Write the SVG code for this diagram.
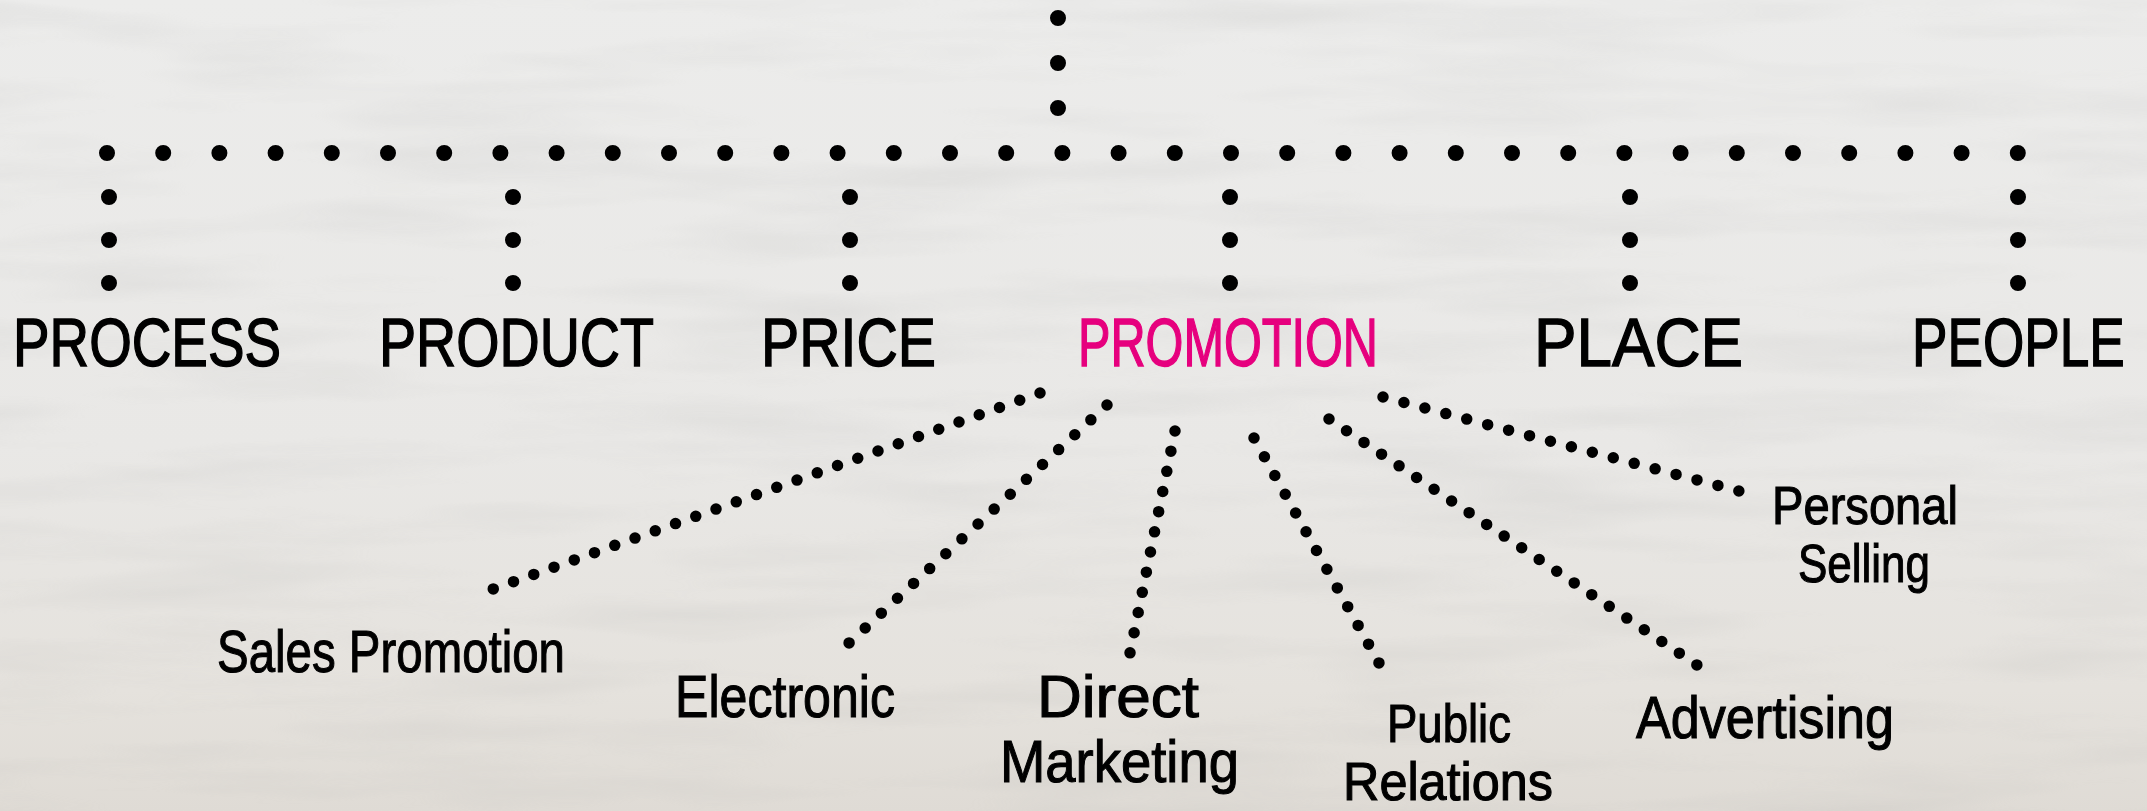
<svg xmlns="http://www.w3.org/2000/svg" width="2147" height="811" viewBox="0 0 2147 811">
  <defs>
    <linearGradient id="bg" x1="0" y1="0" x2="0" y2="1">
      <stop offset="0" stop-color="#ececeb"/>
      <stop offset="0.55" stop-color="#e9e8e6"/>
      <stop offset="0.85" stop-color="#e5e2dd"/>
      <stop offset="1" stop-color="#dfdbd5"/>
    </linearGradient>
    <filter id="grain" x="0" y="0" width="100%" height="100%">
      <feTurbulence type="fractalNoise" baseFrequency="0.003 0.025" numOctaves="3" seed="7" result="n"/>
      <feColorMatrix type="matrix" values="0 0 0 0 0.45  0 0 0 0 0.45  0 0 0 0 0.44  0 0 0 -1.1 0.62" />
    </filter>
    <style>
      .dot { fill: none; stroke: #000; stroke-linecap: round; }
      .big { stroke-width: 16; }
      .small { stroke-width: 11.5; }
      .main { font-family: "Liberation Sans", Arial, sans-serif; font-size: 68px; fill: #000; stroke: #000; stroke-width: 1.4px; }
      .sub { font-family: "Liberation Sans", Arial, sans-serif; font-size: 60px; fill: #000; stroke: #000; stroke-width: 1.1px; }
      .sub2 { font-size: 54px; }
      .hot { fill: #e6007e; stroke: #e6007e; }
    </style>
  </defs>

  <rect x="0" y="0" width="2147" height="811" fill="url(#bg)"/>
  <rect x="0" y="0" width="2147" height="811" filter="url(#grain)" opacity="0.35"/>

  <g id="connectors">
    <!-- top stem -->
    <line class="dot big" x1="1058" y1="18" x2="1058" y2="108" stroke-dasharray="0 44.99"/>
    <!-- horizontal bar -->
    <line class="dot big" x1="107" y1="153" x2="2018" y2="153" stroke-dasharray="0 56.2"/>
    <!-- drops -->
    <line class="dot big" x1="109" y1="197" x2="109" y2="283" stroke-dasharray="0 42.99"/>
    <line class="dot big" x1="513" y1="197" x2="513" y2="283" stroke-dasharray="0 42.99"/>
    <line class="dot big" x1="850" y1="197" x2="850" y2="283" stroke-dasharray="0 42.99"/>
    <line class="dot big" x1="1230" y1="197" x2="1230" y2="283" stroke-dasharray="0 42.99"/>
    <line class="dot big" x1="1630" y1="197" x2="1630" y2="283" stroke-dasharray="0 42.99"/>
    <line class="dot big" x1="2018" y1="197" x2="2018" y2="283" stroke-dasharray="0 42.99"/>
    <!-- promotion branches -->
    <line class="dot small" x1="1040" y1="393" x2="493" y2="589" stroke-dasharray="0 21.51"/>
    <line class="dot small" x1="1107" y1="405" x2="849" y2="643" stroke-dasharray="0 21.93"/>
    <line class="dot small" x1="1175" y1="431" x2="1130" y2="653" stroke-dasharray="0 20.58"/>
    <line class="dot small" x1="1254" y1="438" x2="1379" y2="663" stroke-dasharray="0 21.44"/>
    <line class="dot small" x1="1329" y1="419" x2="1697" y2="665" stroke-dasharray="0 21.07"/>
    <line class="dot small" x1="1383" y1="397" x2="1739" y2="491" stroke-dasharray="0 21.65"/>
  </g>

  <g id="process"><text class="main" x="13" y="366" textLength="268" lengthAdjust="spacingAndGlyphs">PROCESS</text></g>
  <g id="product"><text class="main" x="379" y="366" textLength="275" lengthAdjust="spacingAndGlyphs">PRODUCT</text></g>
  <g id="price"><text class="main" x="761" y="366" textLength="175" lengthAdjust="spacingAndGlyphs">PRICE</text></g>
  <g id="promotion"><text class="main hot" x="1078" y="366" textLength="300" lengthAdjust="spacingAndGlyphs">PROMOTION</text></g>
  <g id="place"><text class="main" x="1534" y="366" textLength="209" lengthAdjust="spacingAndGlyphs">PLACE</text></g>
  <g id="people"><text class="main" transform="translate(1912 366) scale(0.8 1)" x="0" y="0" textLength="266" lengthAdjust="spacingAndGlyphs">PEOPLE</text></g>

  <g id="sales-promotion"><text class="sub" x="217" y="672" textLength="348" lengthAdjust="spacingAndGlyphs">Sales Promotion</text></g>
  <g id="electronic"><text class="sub" x="675" y="717" textLength="220" lengthAdjust="spacingAndGlyphs">Electronic</text></g>
  <g id="direct-marketing">
    <text class="sub" x="1037" y="717" textLength="162" lengthAdjust="spacingAndGlyphs">Direct</text>
    <text class="sub" x="1000" y="782" textLength="239" lengthAdjust="spacingAndGlyphs">Marketing</text>
  </g>
  <g id="public-relations">
    <text class="sub sub2" x="1387" y="742" textLength="124" lengthAdjust="spacingAndGlyphs">Public</text>
    <text class="sub sub2" x="1343" y="800" textLength="210" lengthAdjust="spacingAndGlyphs">Relations</text>
  </g>
  <g id="advertising"><text class="sub" x="1636" y="738" textLength="258" lengthAdjust="spacingAndGlyphs">Advertising</text></g>
  <g id="personal-selling">
    <text class="sub sub2" x="1772" y="524" textLength="186" lengthAdjust="spacingAndGlyphs">Personal</text>
    <text class="sub sub2" x="1798" y="582" textLength="132" lengthAdjust="spacingAndGlyphs">Selling</text>
  </g>
</svg>
